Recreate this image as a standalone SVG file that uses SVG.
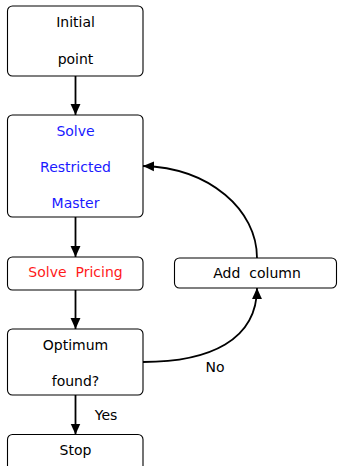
<svg xmlns="http://www.w3.org/2000/svg" width="338" height="466" viewBox="0 0 338 466">
<defs>
<marker id="ah" viewBox="0 0 10 10" refX="10" refY="5" markerWidth="11" markerHeight="11" markerUnits="userSpaceOnUse" orient="auto">
<path d="M0,0.5 L10,5 L0,9.5 Z" fill="#000"/>
</marker>
</defs>
<style>
.box{fill:#fff;stroke:#000;stroke-width:1.1}
.t{font-family:"DejaVu Sans","Liberation Sans",sans-serif;font-size:14px;text-anchor:middle;dominant-baseline:central;white-space:pre}
.c{fill:none;stroke:#000;stroke-width:1.8;marker-end:url(#ah)}
</style>
<g id="n1"><rect class="box" x="7.5" y="6" width="135.5" height="70" rx="5"/><text class="t" x="75.5" y="22">Initial</text><text class="t" x="75.5" y="59">point</text></g>
<g id="n2"><rect class="box" x="7.5" y="115" width="135.5" height="102" rx="5"/><text class="t" x="75.5" y="131" fill="#1a1aff">Solve</text><text class="t" x="75.5" y="167" fill="#1a1aff">Restricted</text><text class="t" x="75.5" y="203" fill="#1a1aff">Master</text></g>
<g id="n3"><rect class="box" x="7.5" y="257" width="135.5" height="33" rx="5"/><text class="t" x="75.5" y="272" fill="#ff1a1a">Solve  Pricing</text></g>
<g id="n4"><rect class="box" x="7.5" y="329" width="135.5" height="66" rx="5"/><text class="t" x="75.5" y="345">Optimum</text><text class="t" x="75.5" y="381">found?</text></g>
<g id="n5"><rect class="box" x="7.5" y="434.5" width="135.5" height="40" rx="5"/><text class="t" x="75.5" y="450">Stop</text></g>
<g id="n6"><rect class="box" x="174.5" y="258" width="162" height="30" rx="5"/><text class="t" x="257" y="273">Add  column</text></g>
<g id="connectors">
<path class="c" d="M75.5,76 L75.5,115"/>
<path class="c" d="M75.5,217 L75.5,257"/>
<path class="c" d="M75.5,290 L75.5,329"/>
<path class="c" d="M75.5,395 L75.5,434.5"/>
<path class="c" d="M143,362 C210,362 257,340 257,288"/>
<path class="c" d="M257,258 C257,210 210,168 143,166"/>
<text class="t" x="106" y="415">Yes</text>
<text class="t" x="215" y="367">No</text>
</g>
</svg>
